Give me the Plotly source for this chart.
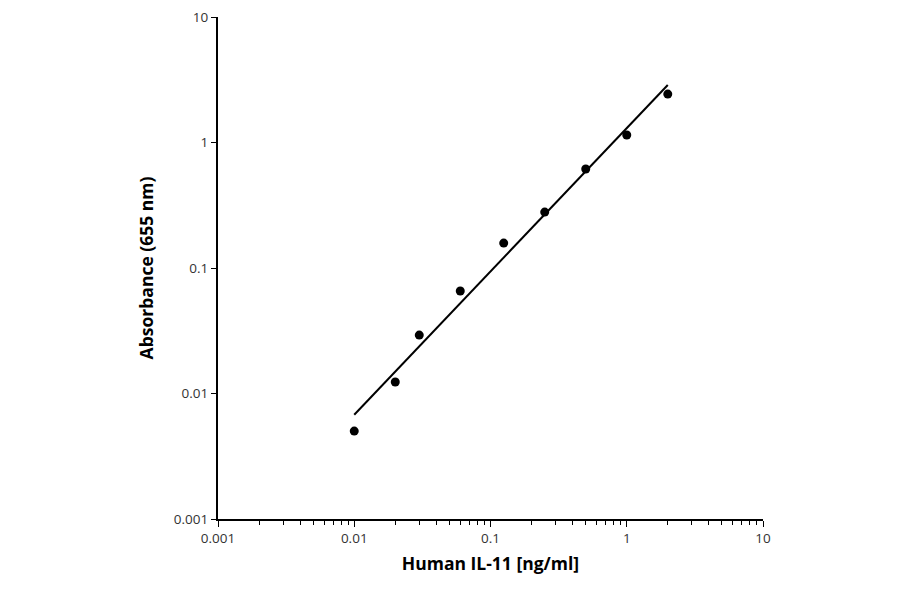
import numpy as np
import plotly.graph_objects as go

concentration = [0.01, 0.02, 0.03, 0.06, 0.125, 0.25, 0.5, 1.0, 2.0]
absorbance = [0.00502, 0.01235, 0.0292, 0.0656, 0.158, 0.279, 0.615, 1.148, 2.43]
tick_vals = [0.001, 0.01, 0.1, 1, 10]
tick_text = ["0.001", "0.01", "0.1", "1", "10"]

# power-law trendline (least squares in log space)
lx = np.log10(concentration)
ly = np.log10(absorbance)
b, a = np.polyfit(lx, ly, 1)
fit_x = np.array([min(concentration), max(concentration)])
fit_y = 10 ** (a + b * np.log10(fit_x))

minor_vals = [d * 10.0 ** e for e in range(-3, 1) for d in range(2, 10)]

fig = go.Figure()
fig.add_trace(go.Scatter(x=fit_x, y=fit_y, mode="lines",
                         line=dict(color="black", width=2), showlegend=False))
fig.add_trace(go.Scatter(x=concentration, y=absorbance, mode="markers",
                         marker=dict(color="black", size=9), showlegend=False))

font_family = "Open Sans, Lato, Liberation Sans, sans-serif"
fig.update_layout(
    width=900, height=594,
    margin=dict(l=210, r=145, t=9, b=83),
    paper_bgcolor="white", plot_bgcolor="white",
    font=dict(family=font_family, color="#222", size=12),
    xaxis=dict(
        type="log", range=[-3, 1], automargin=False,
        tickmode="array", tickvals=tick_vals, ticktext=tick_text,
        ticks="outside", ticklen=6, tickcolor="black", tickwidth=1,
        minor=dict(tickmode="array", tickvals=minor_vals, ticks="outside", ticklen=4,
                   tickcolor="black", tickwidth=1, showgrid=False),
        showline=True, linecolor="black", linewidth=2,
        showgrid=False, zeroline=False, ticklabeloverflow="allow",
        tickfont=dict(size=13.5, color="#333"),
        title=dict(text="<b>Human IL-11 [ng/ml]</b>", font=dict(size=17.5, color="black"), standoff=12),
    ),
    yaxis=dict(
        type="log", range=[-3, 1], automargin=False,
        tickmode="array", tickvals=tick_vals, ticktext=tick_text,
        ticks="outside", ticklen=5, tickcolor="black", tickwidth=1,
        showline=True, linecolor="black", linewidth=2,
        showgrid=False, zeroline=False, ticklabeloverflow="allow",
        tickfont=dict(size=13.5, color="#333"),
        title=dict(text="<b>Absorbance (655 nm)</b>", font=dict(size=17.5, color="black"), standoff=16),
    ),
)

fig.write_html("out.html")
